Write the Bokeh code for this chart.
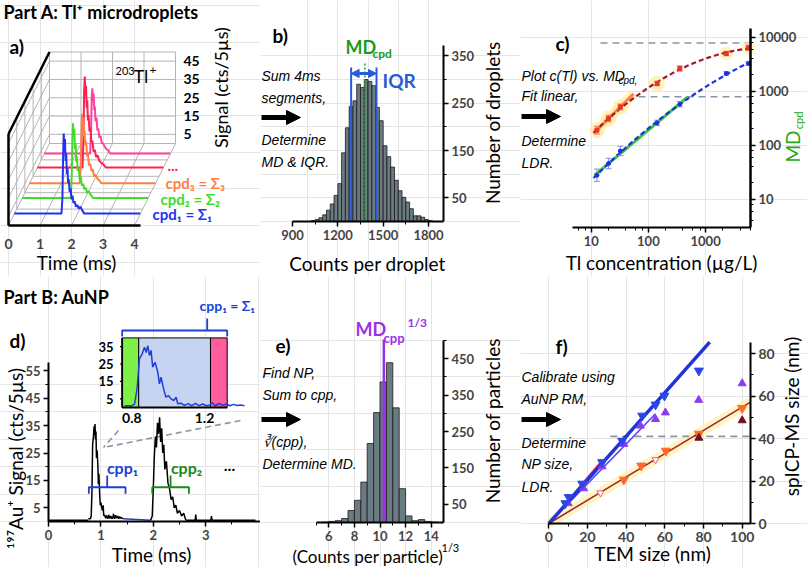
import numpy as np
from bokeh.plotting import figure
from bokeh.layouts import row, column
from bokeh.models import (Range1d, LinearAxis, LogAxis, FixedTicker, LogTicker,
                          NumeralTickFormatter, Label, Arrow, NormalHead)
from bokeh.embed import file_html
from bokeh.resources import INLINE

FONT = "Lato"
IFONT = "Liberation Sans"

# ===================== DATA =====================
# ---- (a) Tl+ microdroplet transients: time (ms) / signal (cts per 5 us)
a_depth = [0.14, 0.33, 0.51, 0.70, 0.87]
a_colors = ["#2233ee", "#3fdc2a", "#ff7f40", "#ff2050", "#ff40a0"]
a_t1 = [0.00, 1.50, 1.53, 1.55, 1.57, 1.59, 1.61, 1.63, 1.65, 1.67, 1.69, 1.71, 1.73, 1.76, 1.79,
        1.82, 1.85, 1.88, 1.92, 1.96, 2.00, 2.05, 2.10, 2.16, 2.22, 4.00]
a_s1 = [0.3, 0.3, 9, 30, 44, 37, 41, 29, 33, 22, 25, 17, 19, 12, 14, 8, 10, 6, 7, 4, 5, 3, 4, 2, 0.3, 0.3]
a_t2 = [0.00, 1.55, 1.58, 1.60, 1.62, 1.64, 1.66, 1.68, 1.70, 1.72, 1.74, 1.77, 1.80, 1.83, 1.86,
        1.90, 1.94, 1.98, 2.02, 2.07, 2.12, 2.18, 2.25, 4.00]
a_s2 = [0.3, 0.3, 14, 33, 41, 34, 38, 27, 30, 20, 23, 15, 17, 10, 12, 7, 8, 5, 6, 3, 4, 2, 0.3, 0.3]
a_t3 = [0.00, 1.60, 1.63, 1.65, 1.67, 1.69, 1.71, 1.73, 1.75, 1.77, 1.80, 1.83, 1.86, 1.89, 1.93,
        1.97, 2.01, 2.05, 2.10, 2.15, 2.21, 2.28, 4.00]
a_s3 = [0.3, 0.3, 10, 28, 38, 33, 36, 26, 29, 21, 23, 15, 16, 10, 11, 7, 8, 4, 5, 3, 2, 0.3, 0.3]
a_t4 = [0.00, 1.44, 1.47, 1.49, 1.51, 1.53, 1.55, 1.57, 1.59, 1.61, 1.63, 1.66, 1.69, 1.72, 1.75,
        1.79, 1.83, 1.87, 1.92, 1.97, 2.03, 2.10, 2.18, 4.00]
a_s4 = [0.3, 0.3, 18, 42, 50, 40, 45, 33, 37, 26, 29, 20, 22, 14, 15, 9, 10, 6, 7, 4, 3, 2, 0.3, 0.3]
a_t5 = [0.00, 1.46, 1.49, 1.51, 1.53, 1.55, 1.57, 1.59, 1.61, 1.63, 1.66, 1.69, 1.72, 1.75, 1.79,
        1.83, 1.87, 1.92, 1.97, 2.03, 2.10, 4.00]
a_s5 = [0.3, 0.3, 14, 31, 36, 29, 33, 24, 26, 18, 20, 13, 14, 9, 10, 6, 6, 4, 3, 2, 0.3, 0.3]
a_time_ticks = [0, 1, 2, 3, 4]
a_sig_ticks = [5, 15, 25, 35, 45]
a_sig_top = 50
a_depth_grid = [0.2, 0.4, 0.6, 0.8]
a_labels = ["cpd\u2081 = \u03a3\u2081", "cpd\u2082 = \u03a3\u2082", "cpd\u2083 = \u03a3\u2083", "..."]

# ---- (b) histogram of counts per droplet
b_bin_start = [1025, 1050, 1075, 1100, 1125, 1150, 1175, 1200, 1225, 1250, 1275, 1300, 1325, 1350,
               1375, 1400, 1425, 1450, 1475, 1500, 1525, 1550, 1575, 1600, 1625, 1650, 1675, 1700,
               1725, 1750, 1775, 1800]
b_bin_width = 25
b_counts = [2, 4, 8, 14, 24, 37, 55, 80, 145, 198, 243, 255, 290, 283, 300, 296, 287, 241, 213,
            160, 137, 115, 87, 65, 51, 41, 27, 12, 12, 9, 4, 2]
b_md = 1379
b_iqr = [1288, 1456]
b_xticks = [900, 1200, 1500, 1800]
b_xminor = [1050, 1350, 1650]
b_yticks = [50, 150, 250, 350]
b_yminor = [100, 200, 300]

# ---- (c) MD_cpd vs Tl concentration
c_conc = [12.6, 20.1, 32.3, 142, 354, 2300, 5600]
c_md_hi = [190, 312, 512, 1390, 2630, 4990, 6340]
c_md_lo = [27.8, 45.8, 78, 259, 574, 2130, 3260]
c_err_hi = [0.18, 0.15, 0.13, 0.10, 0.12, 0.10, 0.12]
c_err_lo = [0.30, 0.25, 0.22, 0.12, 0.12, 0.08, 0.08]
c_lin_hi_n = 3
c_lin_lo_n = 5
c_ldr_levels = [7800, 790]
c_ldr_start = [14.5, 67]

# ---- (d) AuNP transient: time (ms) / signal
d_p1_t = [0.76, 0.80, 0.815, 0.829, 0.842, 0.857, 0.870, 0.879, 0.888, 0.897, 0.906, 0.915, 0.928,
          0.943, 0.952, 0.961, 0.975, 0.988, 1.001, 1.016, 1.031, 1.044, 1.053, 1.07, 1.09, 1.11,
          1.13, 1.15, 1.17, 1.19, 1.21, 1.23, 1.24, 1.26, 1.28, 1.30, 1.32, 1.34, 1.36, 1.38, 1.40, 1.42]
d_p1_s = [1.0, 1.0, 2.0, 10.7, 28.0, 30.8, 34.7, 31.6, 35.6, 29.9, 32.8, 23.2, 26.0, 20.3, 13.6,
          17.4, 10.7, 5.9, 6.9, 5.0, 4.0, 5.9, 2.1, 2.5, 1.2, 2.2, 1.0, 2.4, 1.1, 2.0, 1.0, 1.5,
          2.8, 1.0, 2.3, 1.2, 2.0, 1.0, 1.8, 1.1, 1.4, 1.0]
d_p2_t = [1.95, 1.98, 2.00, 2.02, 2.04, 2.06, 2.08, 2.10, 2.12, 2.14, 2.16, 2.18, 2.20, 2.22, 2.25,
          2.28, 2.31, 2.34, 2.37, 2.40, 2.43, 2.46, 2.50, 2.54, 2.58, 2.62]
d_p2_s = [0.5, 2.0, 12, 24, 31, 27, 36, 32, 38, 29, 34, 25, 28, 19, 22, 14, 12, 8, 9, 5, 6, 3, 4,
          2, 3, 0.5]
d_base_t = [0.0, 0.76]
d_gap_t = [1.42, 1.95]
d_tail_t = [2.62, 2.80, 2.81, 2.82, 3.10, 3.11, 3.12, 3.95]
d_tail_s = [0.5, 0.5, 2.5, 0.5, 0.5, 2.0, 0.5, 0.5]
d_xticks = [0, 1, 2, 3]
d_xminor = [0.5, 1.5, 2.5, 3.5]
d_yticks = [5, 15, 25, 35, 45, 55]
d_yminor = [10, 20, 30, 40, 50]
d_inset_yticks = [5, 15, 25, 35]
d_inset_xticks = [0.8, 1.2]
d_inset_spans = [0.747, 0.838, 1.233, 1.325]   # green | integrated | pink
d_inset_top = 40
d_cpp_brackets = [[0.77, 1.47], [1.98, 2.68]]

# ---- (e) histogram of cube-root counts per particle
e_bin_start = [5.5, 6.0, 6.5, 7.0, 7.5, 8.0, 8.5, 9.0, 9.5, 10.0, 10.5, 11.0, 11.5, 12.0, 12.5,
               13.0, 13.5, 14.0]
e_bin_width = 0.5
e_counts = [1, 3, 5, 11, 33, 61, 111, 217, 302, 386, 439, 315, 93, 18, 5, 8, 3, 1]
e_md = 10.3
e_xticks = [6, 8, 10, 12, 14]
e_xminor = [5, 7, 9, 11, 13]
e_yticks = [50, 150, 250, 350, 450]
e_yminor = [100, 200, 300, 400, 500]

# ---- (f) spICP-MS size vs TEM size
f_x_blue = [8.6, 10.3, 17.3, 27.6, 37.9, 48.3, 55.2, 59.8, 77.6]
f_y_blue = [9.5, 12.4, 18.7, 28.8, 38.9, 50.7, 55.9, 60.1, 71.9]
f_x_violet = [10.0, 18.0, 27.6, 38.8, 47.4, 55.2, 60.3, 77.5, 100.0]
f_y_violet = [9.5, 16.5, 26.8, 37.4, 46.0, 49.1, 52.2, 58.1, 65.9]
f_x_orange = [38.8, 47.8, 60.5, 77.6, 100.0]
f_y_orange = [20.6, 27.2, 34.2, 42.2, 54.3]
f_x_hollow = [26.7, 55.2]
f_y_hollow = [14.4, 30.0]
f_x_dark = [77.6, 100.0]
f_y_dark = [40.3, 48.5]
f_ldr = 41.0
f_ldr_start = 31.8
f_xticks = [0, 20, 40, 60, 80, 100]
f_xminor = [10, 30, 50, 70, 90]
f_yticks = [0, 20, 40, 60, 80]
f_yminor = [10, 30, 50, 70]


# ===================== HELPERS =====================
def make_fig(w, h, xr, yr, x_type="linear", y_type="linear"):
    p = figure(width=w, height=h, x_range=xr, y_range=yr, output_backend="svg",
               toolbar_location=None, x_axis_location=None, y_axis_location=None,
               x_axis_type=x_type, y_axis_type=y_type,
               min_border_left=0, min_border_right=0, min_border_top=0, min_border_bottom=0)
    p.outline_line_color = None
    p.background_fill_color = "white"
    p.border_fill_color = "white"
    return p


def add_axis(p, side, ticker, loc, bounds=None, size=13, log=False, lw=2):
    cls = LogAxis if log else LinearAxis
    ax = cls(ticker=ticker, fixed_location=loc)
    if bounds is not None:
        ax.bounds = bounds
    ax.axis_line_width = lw
    ax.axis_line_color = "black"
    ax.major_tick_line_width = 1.5
    ax.major_tick_line_color = "black"
    ax.major_tick_out = 5
    ax.major_tick_in = 0
    ax.minor_tick_out = 3
    ax.minor_tick_in = 0
    ax.minor_tick_line_width = 1
    ax.minor_tick_line_color = "black"
    ax.major_label_text_font = FONT
    ax.major_label_text_font_style = "bold"
    ax.major_label_text_font_size = f"{size}px"
    ax.major_label_standoff = 3
    p.add_layout(ax, side)
    return ax


def txt(p, x, y, text, size=14, color="black", style="normal", font=FONT, align="left",
        angle=0, xr="default", yr="default", baseline="middle"):
    p.add_layout(Label(x=x, y=y, text=text, text_font=font, text_font_size=f"{size}px",
                       text_font_style=style, text_color=color, text_align=align,
                       text_baseline=baseline, angle=angle, angle_units="deg",
                       x_range_name=xr, y_range_name=yr))


def itxt(p, x, y, text, size=14):
    txt(p, x, y, text, size=size, font=IFONT, style="italic")


def big_arrow(p, x0, x1, y):
    p.add_layout(Arrow(end=NormalHead(size=14, fill_color="black", line_color="black"),
                       x_start=x0, y_start=y, x_end=x1, y_end=y,
                       line_width=5, line_color="black"))


TS = 19   # axis-title font size
# Page pixel layout: columns 0-260, 260-520, 520-807; rows 0-276, 276-567.
# ===================== PANEL a =====================
def AU(px): return (px - 8.0) / 31.5
def AV(py): return (225.0 - py) / 1.83
DU = 41.0 / 31.5
DV = 82.0 / 1.83

fa = make_fig(260, 276, Range1d(AU(0), AU(260)), Range1d(AV(276), AV(0)))

gx, gy = [], []
def seg3(t0, s0, z0, t1, s1, z1):
    gx.append([t0 + DU * z0, t1 + DU * z1])
    gy.append([s0 + DV * z0, s1 + DV * z1])

tmax = a_time_ticks[-1]
for s in a_sig_ticks + [a_sig_top]:
    seg3(0, s, 1, tmax, s, 1)
for t in a_time_ticks:
    seg3(t, 0, 1, t, a_sig_top, 1)
for s in a_sig_ticks:
    seg3(0, s, 0, 0, s, 1)
for z in a_depth_grid:
    seg3(0, 0, z, 0, a_sig_top, z)
for t in a_time_ticks[1:]:
    seg3(t, 0, 0, t, 0, 1)
for z in a_depth_grid + [1]:
    seg3(0, 0, z, tmax, 0, z)
seg3(0, 0, 0, 0, 0, 1)
fa.multi_line(gx, gy, line_color="#b4b4b4", line_width=1)
fa.multi_line([[0, 0], [0, DU]], [[0, a_sig_top], [a_sig_top, a_sig_top + DV]],
              line_color="black", line_width=2.5)

a_traces = [(a_t1, a_s1), (a_t2, a_s2), (a_t3, a_s3), (a_t4, a_s4), (a_t5, a_s5)]
for k in reversed(range(len(a_traces))):
    t, s = a_traces[k]
    z = a_depth[k]
    fa.line(np.array(t) + DU * z, np.array(s) + DV * z, line_color=a_colors[k], line_width=2)

ax = add_axis(fa, "below", FixedTicker(ticks=a_time_ticks), 0, bounds=(0, 4.2), size=14, lw=2.5)
ax.major_tick_line_color = None
ax.major_label_standoff = 8

for s in a_sig_ticks:
    txt(fa, AU(183), s + DV, str(s), size=14, style="bold")
txt(fa, AU(220), AV(87), "Signal (cts/5\u00b5s)", size=18, angle=90, align="center")
txt(fa, AU(115), AV(70), "203", size=11)
txt(fa, AU(133), AV(75), "Tl", size=18)
txt(fa, AU(149), AV(69), "+", size=12)
txt(fa, AU(3), AV(11), "Part A: Tl\u207a microdroplets", size=18, style="bold")
txt(fa, AU(9), AV(46), "a)", size=19, style="bold")
lab_y = [213, 198, 182, 165]
lab_x = [152, 160, 165, 167]
for k in range(4):
    txt(fa, AU(lab_x[k]), AV(lab_y[k]), a_labels[k], size=15, style="bold", color=a_colors[k])
txt(fa, AU(76), AV(262), "Time (ms)", size=TS, align="center")

# ===================== PANEL b =====================
def BX(px): return 900 + (px - 292.0) / 0.1511
def BY(py): return (221.0 - py) / 0.4733

fb = make_fig(260, 276, Range1d(BX(260), BX(520)), Range1d(BY(276), BY(0)))
bl = np.array(b_bin_start, dtype=float)
fb.quad(left=bl, right=bl + b_bin_width, bottom=0, top=b_counts,
        fill_color="#6b7b82", line_color="#1a1a1a", line_width=0.8)
fb.segment(x0=b_iqr, y0=[0, 0], x1=b_iqr, y1=[BY(67), BY(67)], line_color="#2a5bd7", line_width=2)
fb.segment(x0=[b_md], y0=[0], x1=[b_md], y1=[BY(62)], line_color="#22aa22", line_width=1.6,
           line_dash="2 2")
fb.add_layout(Arrow(start=NormalHead(size=8, fill_color="#2a5bd7", line_color="#2a5bd7"),
                    end=NormalHead(size=8, fill_color="#2a5bd7", line_color="#2a5bd7"),
                    x_start=b_iqr[0], x_end=b_iqr[1], y_start=BY(73), y_end=BY(73),
                    line_color="#2a5bd7", line_width=3))
add_axis(fb, "below", FixedTicker(ticks=b_xticks, minor_ticks=b_xminor), 0, bounds=(900, BX(443)))
add_axis(fb, "right", FixedTicker(ticks=b_yticks, minor_ticks=b_yminor), BX(443), bounds=(0, BY(45)))
txt(fb, BX(272), BY(35), "b)", size=19, style="bold")
itxt(fb, BX(261), BY(75), "Sum 4ms")
itxt(fb, BX(261), BY(97), "segments,")
big_arrow(fb, BX(261), BX(300), BY(117))
itxt(fb, BX(261), BY(139), "Determine")
itxt(fb, BX(261), BY(161), "MD & IQR.")
txt(fb, BX(345), BY(46), "MD", size=18, style="bold", color="#1a9a1a")
txt(fb, BX(372), BY(53), "cpd", size=12, style="bold", color="#1a9a1a")
txt(fb, BX(382), BY(80), "IQR", size=19, style="bold", color="#2a5bd7")
txt(fb, BX(367), BY(263), "Counts per droplet", size=TS, align="center")
txt(fb, BX(492), BY(122), "Number of droplets", size=TS, align="center", angle=90)

# ===================== PANEL c =====================
def CX(px): return 10 ** (1 + (px - 590.7) / 57.2)
def CY(py): return 10 ** (1 + (198.7 - py) / 54.0)

fc = make_fig(287, 276, Range1d(CX(520), CX(807)), Range1d(CY(276), CY(0)),
              x_type="log", y_type="log")
cc = np.array(c_conc, dtype=float)
hi = np.array(c_md_hi, dtype=float)
lo = np.array(c_md_lo, dtype=float)
fc.segment(x0=c_ldr_start, y0=c_ldr_levels, x1=[CX(750)] * 2, y1=c_ldr_levels,
           line_color="#8796a6", line_width=1.6, line_dash="7 5")
fc.scatter(cc[:4], hi[:4], size=16, fill_color="#fff0a0", line_color=None, fill_alpha=0.7)
fc.scatter(cc[-2:], hi[-2:], size=14, fill_color="#fff0a0", line_color=None, fill_alpha=0.6)
xx = np.logspace(np.log10(11), np.log10(5600), 60)
rfit = np.polyfit(np.log10(cc), np.log10(hi), 2)
bfit = np.polyfit(np.log10(cc), np.log10(lo), 2)
orf = np.polyfit(np.log10(cc[:c_lin_hi_n]), np.log10(hi[:c_lin_hi_n]), 1)
grf = np.polyfit(np.log10(cc[:c_lin_lo_n]), np.log10(lo[:c_lin_lo_n]), 1)
xo = np.logspace(np.log10(11), np.log10(55), 20)
xg = np.logspace(np.log10(11.5), np.log10(480), 30)
fc.line(xo, 10 ** np.polyval(orf, np.log10(xo)), line_color="#fff0a0", line_width=10, line_alpha=0.7)
fc.line(xo, 10 ** np.polyval(orf, np.log10(xo)), line_color="#ff8050", line_width=3)
fc.line(xg, 10 ** np.polyval(grf, np.log10(xg)), line_color="#3fc43f", line_width=3)
fc.line(xx, 10 ** np.polyval(rfit, np.log10(xx)), line_color="#a3192d", line_width=2.2, line_dash="5 3")
fc.line(xx, 10 ** np.polyval(bfit, np.log10(xx)), line_color="#1a33dd", line_width=2.2, line_dash="5 3")
eh = np.array(c_err_hi)
el = np.array(c_err_lo)
fc.segment(x0=cc, y0=hi / (1 + eh), x1=cc, y1=hi * (1 + eh), line_color="#f07070", line_width=1)
fc.scatter(np.concatenate([cc, cc]), np.concatenate([hi / (1 + eh), hi * (1 + eh)]),
           marker="dash", size=6, line_color="#f07070")
fc.segment(x0=cc, y0=lo / (1 + el), x1=cc, y1=lo * (1 + el), line_color="#7f8fe0", line_width=1)
fc.scatter(np.concatenate([cc, cc]), np.concatenate([lo / (1 + el), lo * (1 + el)]),
           marker="dash", size=6, line_color="#7f8fe0")
fc.scatter(cc, hi, marker="square", size=4, fill_color="#e8352a", line_color="#e8352a")
fc.scatter(cc, lo, marker="circle", size=4, fill_color="#1a33dd", line_color="#1a33dd")
axc = add_axis(fc, "below", LogTicker(), CY(227), bounds=(CX(572), CX(750)), log=True)
axc.formatter = NumeralTickFormatter(format="0")
ayc = add_axis(fc, "right", LogTicker(), CX(750), bounds=(CY(227), CY(28)), log=True, lw=2.5, size=13)
ayc.formatter = NumeralTickFormatter(format="0")
txt(fc, CX(555), CY(43), "c)", size=19, style="bold")
itxt(fc, CX(521), CY(75), "Plot c(Tl) vs. MD")
txt(fc, CX(618), CY(80), "cpd,", size=10, font=IFONT, style="italic")
itxt(fc, CX(521), CY(95), "Fit linear,")
big_arrow(fc, CX(521), CX(560), CY(116))
itxt(fc, CX(521), CY(140), "Determine")
itxt(fc, CX(521), CY(162), "LDR.")
txt(fc, CX(661), CY(262), "Tl concentration (\u00b5g/L)", size=TS, align="center")
txt(fc, CX(792), CY(146), "MD", size=19, color="#22aa22", align="center", angle=90)
txt(fc, CX(798), CY(120), "cpd", size=11, color="#22aa22", align="center", angle=90)

# ===================== PANEL d =====================
def DX(px): return (px - 48.0) / 52.4
def DY(py): return (521.0 - py) / 2.74
def IX(px): return 0.8 + (px - 131.3) / 181.7
def IY(py): return (407.0 - py) / 1.74

fd = make_fig(260, 291, Range1d(DX(0), DX(260)), Range1d(DY(567), DY(276)))
fd.extra_x_ranges = {"ix": Range1d(IX(0), IX(260))}
fd.extra_y_ranges = {"iy": Range1d(IY(567), IY(276))}

sp = d_inset_spans
fd.quad(left=[sp[0], sp[1], sp[2]], right=[sp[1], sp[2], sp[3]], bottom=0, top=d_inset_top,
        fill_color=["#7ff04a", "#c6d4f2", "#ff5c9d"], line_color="black", line_width=1,
        x_range_name="ix", y_range_name="iy")
fd.line(d_p1_t, d_p1_s, line_color="#1e3fd8", line_width=1.5, x_range_name="ix", y_range_name="iy")
fd.segment(x0=[sp[0], sp[0]], y0=[0, 0], x1=[sp[0], sp[3]], y1=[d_inset_top, 0],
           line_color="black", line_width=1.8, x_range_name="ix", y_range_name="iy")
fd.segment(x0=[sp[0] - 0.012] * len(d_inset_yticks), y0=d_inset_yticks,
           x1=[sp[0]] * len(d_inset_yticks), y1=d_inset_yticks,
           line_color="black", line_width=1.2, x_range_name="ix", y_range_name="iy")
for v in d_inset_yticks:
    txt(fd, IX(113), v, str(v), size=13, style="bold", align="right", xr="ix", yr="iy")
for v in d_inset_xticks:
    txt(fd, v, IY(417), str(v), size=14, style="bold", align="center", xr="ix", yr="iy")
bk_y, bk_hook, bk_stem = IY(330), IY(336), IY(318)
fd.multi_line([[sp[0], sp[0], sp[3], sp[3]], [1.215, 1.215]],
              [[bk_hook, bk_y, bk_y, bk_hook], [bk_y, bk_stem]],
              line_color="#1e3fd8", line_width=1.8, x_range_name="ix", y_range_name="iy")
txt(fd, IX(199), IY(305), "cpp\u2081 = \u03a3\u2081", size=14, style="bold", color="#1e3fd8",
    xr="ix", yr="iy")
fd.multi_line([[DX(118), DX(103)], [DX(240), DX(103)]], [[DY(430), DY(447)], [DY(420), DY(447)]],
              line_color="#8796a6", line_width=1.6, line_dash="6 4")

fd.line(d_base_t, [0.5, 0.5], line_color="black", line_width=1.5)
fd.line(d_p1_t, d_p1_s, line_color="black", line_width=1.5)
fd.line(d_gap_t, [1.0, 0.5], line_color="#1e3fd8", line_width=1.5)
fd.line(d_p2_t, d_p2_s, line_color="black", line_width=1.5)
fd.line(d_tail_t, d_tail_s, line_color="black", line_width=1.5)
br_cols = ["#1e3fd8", "#1a8a1a"]
for k, (x0, x1) in enumerate(d_cpp_brackets):
    xm = (x0 + x1) / 2
    fd.multi_line([[x0, x0, x1, x1], [xm, xm]], [[10.1, 12.5, 12.5, 10.1], [12.5, 16.8]],
                  line_color=br_cols[k], line_width=1.8)
txt(fd, DX(122), DY(467), "cpp\u2081", size=16, style="bold", color="#1e3fd8", align="center")
txt(fd, DX(186), DY(467), "cpp\u2082", size=16, style="bold", color="#1a8a1a", align="center")
txt(fd, DX(229), DY(465), "...", size=16, style="bold", align="center")

add_axis(fd, "below", FixedTicker(ticks=d_xticks, minor_ticks=d_xminor), 0, bounds=(0, DX(260)))
add_axis(fd, "left", FixedTicker(ticks=d_yticks, minor_ticks=d_yminor), 0, bounds=(0, 58))
txt(fd, DX(3), DY(296), "Part B: AuNP", size=18, style="bold")
txt(fd, DX(9), DY(340), "d)", size=19, style="bold")
txt(fd, DX(15), DY(458), "\u00b9\u2079\u2077Au\u207a Signal (cts/5\u00b5s)", size=TS, align="center",
    angle=90)
txt(fd, DX(151), DY(554), "Time (ms)", size=TS, align="center")

# ===================== PANEL e =====================
def EX(px): return 6 + (px - 328.3) / 12.8
def EY(py): return (522.0 - py) / 0.364

fe = make_fig(260, 291, Range1d(EX(260), EX(520)), Range1d(EY(567), EY(276)))
el_ = np.array(e_bin_start)
fe.quad(left=el_, right=el_ + e_bin_width, bottom=0, top=e_counts,
        fill_color="#6b7b82", line_color="#1a1a1a", line_width=0.8)
fe.segment(x0=[e_md], y0=[0], x1=[e_md], y1=[EY(339)], line_color="#9a30e8", line_width=2.5)
add_axis(fe, "below", FixedTicker(ticks=e_xticks, minor_ticks=e_xminor), 0, bounds=(5, EX(443)))
add_axis(fe, "right", FixedTicker(ticks=e_yticks, minor_ticks=e_yminor), EX(443), bounds=(0, 500))
txt(fe, EX(275), EY(345), "e)", size=19, style="bold")
itxt(fe, EX(262), EY(372), "Find NP,")
itxt(fe, EX(262), EY(394), "Sum to cpp,")
big_arrow(fe, EX(261), EX(300), EY(419))
itxt(fe, EX(262), EY(441), "\u221b(cpp),")
itxt(fe, EX(262), EY(463), "Determine MD.")
txt(fe, EX(355), EY(328), "MD", size=18, style="bold", color="#9a30e8")
txt(fe, EX(383), EY(337), "cpp", size=13, style="bold", color="#9a30e8")
txt(fe, EX(407), EY(322), "1/3", size=12, style="bold", color="#9a30e8")
txt(fe, EX(492), EY(420), "Number of particles", size=TS, align="center", angle=90)
txt(fe, EX(292), EY(556), "(Counts per particle)", size=17)
txt(fe, EX(441), EY(547), "1/3", size=11)

# ===================== PANEL f =====================
def FX(px): return (px - 548.3) / 1.934
def FY(py): return (523.0 - py) / 2.125

ff = make_fig(287, 291, Range1d(FX(520), FX(807)), Range1d(FY(567), FY(276)))
xb = np.array(f_x_blue)
yb = np.array(f_y_blue)
xv = np.array(f_x_violet)
yv = np.array(f_y_violet)
xo_ = np.array(f_x_orange + f_x_hollow)
yo_ = np.array(f_y_orange + f_y_hollow)
kb = np.sum(xb[:8] * yb[:8]) / np.sum(xb[:8] ** 2)
kv = np.sum(xv[:6] * yv[:6]) / np.sum(xv[:6] ** 2)
kr = np.sum(xb[:4] * yb[:4]) / np.sum(xb[:4] ** 2)
ko = np.sum(xo_ * yo_) / np.sum(xo_ ** 2)
ytop = FY(341.7)
xend = FX(750)
ff.line([0, xend], [0, ko * xend], line_color="#fff3b0", line_width=10, line_alpha=0.8)
ff.segment(x0=[f_ldr_start], y0=[f_ldr], x1=[xend], y1=[f_ldr], line_color="#8796a6",
           line_width=1.6, line_dash="7 5")
ff.line([0, xend], [0, ko * xend], line_color="#a0203a", line_width=1.5)
ff.line([0, xv[5]], [0, kv * xv[5]], line_color="#5a48e8", line_width=1.6)
ff.line([xb[0], xb[3]], [kr * xb[0], kr * xb[3]], line_color="#ff2060", line_width=2.5)
ff.line([0, ytop / kb], [0, ytop], line_color="#1f35d8", line_width=3.5)
ff.scatter(xv, yv, marker="triangle", size=8, fill_color="#8a3cf0", line_color="#8a3cf0")
ff.scatter(xb, yb, marker="inverted_triangle", size=9, fill_color="#2f46e6", line_color="#2f46e6")
ff.scatter(f_x_orange, f_y_orange, marker="inverted_triangle", size=9, fill_color="#ff6a2a",
           line_color="#ff6a2a")
ff.scatter(f_x_hollow, f_y_hollow, marker="inverted_triangle", size=7, fill_color="white",
           line_color="#e0607a")
ff.scatter(f_x_dark, f_y_dark, marker="triangle", size=8, fill_color="#6e1020", line_color="#6e1020")
add_axis(ff, "below", FixedTicker(ticks=f_xticks, minor_ticks=f_xminor), 0, bounds=(0, xend), size=14)
add_axis(ff, "right", FixedTicker(ticks=f_yticks, minor_ticks=f_yminor), xend, bounds=(0, ytop), size=14)
txt(ff, FX(555), FY(346), "f)", size=19, style="bold")
itxt(ff, FX(521), FY(376), "Calibrate using")
itxt(ff, FX(521), FY(398), "AuNP RM,")
big_arrow(ff, FX(521), FX(560), FY(419))
itxt(ff, FX(521), FY(442), "Determine")
itxt(ff, FX(521), FY(463), "NP size,")
itxt(ff, FX(521), FY(486), "LDR.")
txt(ff, FX(652), FY(553), "TEM size (nm)", size=TS, align="center")
txt(ff, FX(791), FY(416), "spICP-MS size (nm)", size=TS, align="center", angle=90)

layout = column(row(fa, fb, fc), row(fd, fe, ff))
open("out.html", "w").write(file_html(layout, INLINE))
